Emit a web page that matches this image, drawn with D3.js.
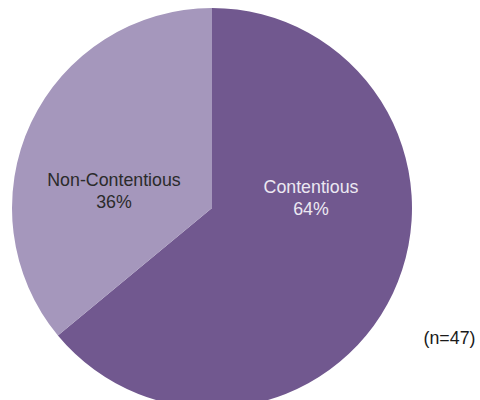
<!DOCTYPE html>
<html>
<head>
<meta charset="utf-8">
<script src="https://cdn.jsdelivr.net/npm/d3@7"></script>
<style>
  html, body { margin: 0; padding: 0; background: #fff; }
  svg { display: block; }
</style>
</head>
<body>
<svg id="chart" width="480" height="400"></svg>
<script>
// Share of cases by type
const categories = ["Contentious", "Non-Contentious"];
const shares = [64, 36];
const sampleNote = "(n=47)";

const fills = ["#71588f", "#a597bc"];
const textFills = ["#ece8f2", "#2b2b2b"];
// label anchor offsets from the pie centre (layout only)
const labelOffsets = [[99, -14.7], [-98, -21.7]];

const svg = d3.select("#chart");
const cx = 212, cy = 208, r = 200;
const fontFamily = "Liberation Sans, Arial, Helvetica, sans-serif";
const fontSize = 17.8;

const pie = d3.pie().sort(null).value(d => d.value);
const arcs = pie(categories.map((c, i) => ({ name: c, value: shares[i] })));
const arc = d3.arc().innerRadius(0).outerRadius(r);

const g = svg.append("g").attr("transform", `translate(${cx},${cy})`);

g.selectAll("path")
  .data(arcs)
  .join("path")
  .attr("d", arc)
  .attr("fill", (d, i) => fills[i]);

const labels = g.selectAll("text.lbl")
  .data(arcs)
  .join("text")
  .attr("class", "lbl")
  .attr("text-anchor", "middle")
  .attr("font-family", fontFamily)
  .attr("font-size", fontSize)
  .attr("fill", (d, i) => textFills[i])
  .attr("transform", (d, i) => `translate(${labelOffsets[i][0]},${labelOffsets[i][1]})`);

labels.append("tspan").attr("x", 0).attr("y", 0).text(d => d.data.name);
labels.append("tspan").attr("x", 0).attr("y", 21.7).text(d => d.data.value + "%");

svg.append("text")
  .attr("x", 449.5)
  .attr("y", 344)
  .attr("text-anchor", "middle")
  .attr("font-family", fontFamily)
  .attr("font-size", fontSize)
  .attr("fill", "#1a1a1a")
  .text(sampleNote);
</script>
</body>
</html>
